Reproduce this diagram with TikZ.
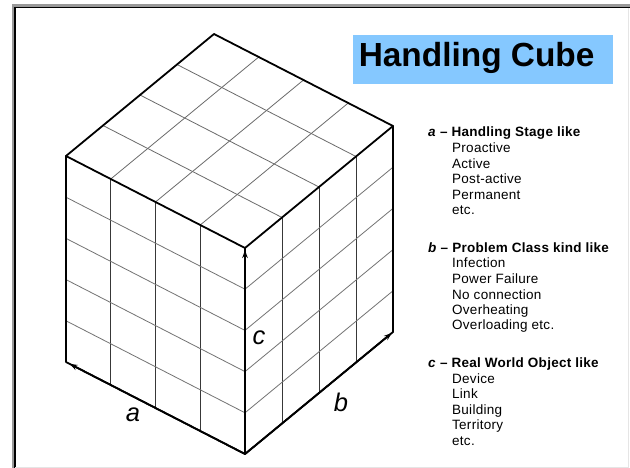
\documentclass[tikz,border=0pt]{standalone}
\usepackage{fontspec}
\setmainfont{Liberation Sans}
\newfontfamily\legendfont[LetterSpace=2]{Liberation Sans}
\usetikzlibrary{calc,arrows.meta}
\definecolor{titleblue}{RGB}{133,200,255}
\begin{document}
\begin{tikzpicture}[x=1pt,y=-1pt,
  edge/.style={line width=1.8pt, line cap=round, line join=round},
  topgrid/.style={line width=0.8pt, draw=black!58},
  vgrid/.style={line width=0.9pt, draw=black!78},
  hgrid/.style={line width=0.8pt, draw=black!55},
  axisarrow/.style={line width=1.8pt, -{Stealth[length=8pt,width=5.5pt]}},
  axislabel/.style={font=\fontsize{25.5}{28}\selectfont\itshape},
  head/.style={anchor=base west, inner sep=0pt, font=\legendfont\fontsize{13.5}{15}\selectfont\bfseries},
  item/.style={anchor=base west, inner sep=0pt, font=\legendfont\fontsize{13.5}{15}\selectfont}
]
\useasboundingbox (0,0) rectangle (630,468);
\fill[white] (0,0) rectangle (630,468);
% screenshot frame
\fill[black!40] (12,4) rectangle (630,7);
\fill[black!40] (12,4) rectangle (14.3,468);
\draw[line width=1.2pt] (14.9,468) -- (14.9,7.6) -- (630,7.6);
\draw[black!10, line width=0.8pt] (628.5,8) -- (628.5,467) -- (15,467);

% cube corners
\coordinate (T)  at (214,34);
\coordinate (L)  at (66,156);
\coordinate (F)  at (245,248);
\coordinate (R)  at (393,126);
\coordinate (Lb) at (66,362);
\coordinate (Fb) at (245,454);
\coordinate (Rb) at (393,332);

% top face grid (4 x 4)
\foreach \i in {1,2,3}{
  \draw[topgrid] ($(L)!\i/4!(F)$) -- ($(T)!\i/4!(R)$);
  \draw[topgrid] ($(L)!\i/4!(T)$) -- ($(F)!\i/4!(R)$);
}
% front faces grid (4 x 5)
\foreach \i in {1,2,3}{
  \draw[vgrid] ($(L)!\i/4!(F)$) -- ($(Lb)!\i/4!(Fb)$);
  \draw[vgrid] ($(F)!\i/4!(R)$) -- ($(Fb)!\i/4!(Rb)$);
}
\foreach \j in {1,2,3,4}{
  \draw[hgrid] ($(L)!\j/5!(Lb)$) -- ($(F)!\j/5!(Fb)$);
  \draw[hgrid] ($(F)!\j/5!(Fb)$) -- ($(R)!\j/5!(Rb)$);
}

% outline
\draw[edge] (L) -- (T) -- (R) -- (Rb) -- (Fb) -- (Lb) -- cycle;
\draw[edge] (L) -- (F) -- (R);
\draw[edge] (F) -- (Fb);

% axis arrows
\draw[axisarrow, shorten >=4pt] (Fb) -- (Lb);
\draw[axisarrow, shorten >=1.5pt] (Fb) -- (Rb);
\draw[axisarrow, shorten >=2pt] (Fb) -- (F);

\node[axislabel] (la) at (133,415) {a};
\node[axislabel] (lb) at (341,402) {b};
\node[axislabel] (lc) at (259,338) {c};

% title
\node (titlebox) [fill=titleblue, inner sep=0pt, minimum width=260pt, minimum height=49pt, anchor=north west] at (353,35) {};
\node (title) [anchor=base west, inner sep=0pt, font=\fontsize{33.4}{36}\selectfont\bfseries] at (358.6,67) {Handling Cube};

% legend
\node[head] (ha) at (428,137) {\textit{a} – Handling Stage like};
\node[item] (a1) at (452,153) {Proactive};
\node[item] (a2) at (452,168.5) {Active};
\node[item] (a3) at (452,184) {Post-active};
\node[item] (a4) at (452,199.5) {Permanent};
\node[item] (a5) at (452,215) {etc.};

\node[head] (hb) at (428,252.3) {\textit{b} – Problem Class kind like};
\node[item] (b1) at (452,268) {Infection};
\node[item] (b2) at (452,283.5) {Power Failure};
\node[item] (b3) at (452,299) {No connection};
\node[item] (b4) at (452,314.5) {Overheating};
\node[item] (b5) at (452,330) {Overloading etc.};

\node[head] (hc) at (428,367.3) {\textit{c} – Real World Object like};
\node[item] (c1) at (452,383) {Device};
\node[item] (c2) at (452,398.5) {Link};
\node[item] (c3) at (452,414) {Building};
\node[item] (c4) at (452,429.5) {Territory};
\node[item] (c5) at (452,445) {etc.};
\end{tikzpicture}
\end{document}
